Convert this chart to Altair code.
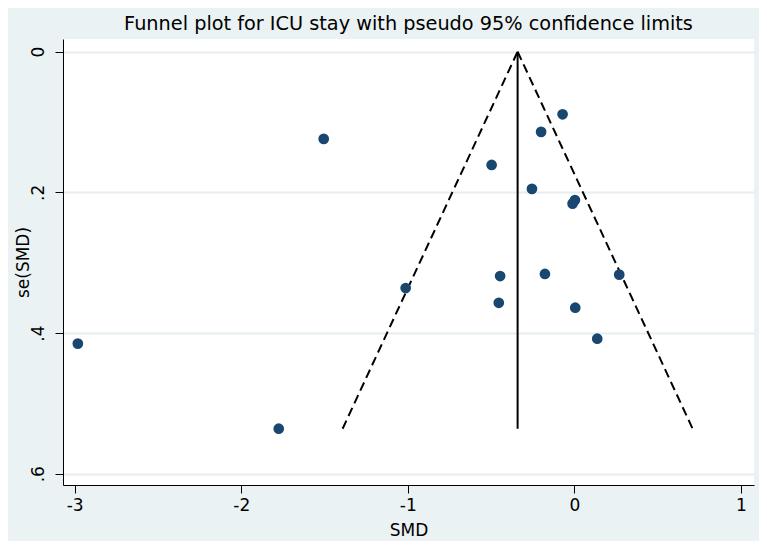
import altair as alt
import pandas as pd

# Study estimates (standardized mean difference) and their standard errors
smd = [-0.071, -0.200, -1.505, -0.497, -0.255, 0.003, -0.011, -0.446,
       -0.177, 0.269, -1.013, -0.454, 0.005, 0.137, -2.981, -1.775]
se = [0.089, 0.114, 0.124, 0.161, 0.195, 0.211, 0.216, 0.319,
      0.316, 0.317, 0.336, 0.357, 0.364, 0.408, 0.415, 0.536]

# Pooled estimate and funnel limits
center = -0.341
se_max = 0.536
z = 1.96

x_ticks = [-3, -2, -1, 0, 1]
y_ticks = [0, 0.2, 0.4, 0.6]
y_tick_labels = ["0", ".2", ".4", ".6"]

pts = pd.DataFrame({"smd": smd, "se": se})
funnel = pd.DataFrame({
    "side": ["lo", "lo", "hi", "hi"],
    "smd": [center, center - z * se_max, center, center + z * se_max],
    "se": [0, se_max, 0, se_max],
})
vline = pd.DataFrame({"smd": [center], "se": [0], "se2": [se_max]})

FONT = "DejaVu Sans"
label_expr = " : ".join(
    f"datum.value == {v} ? '{l}'" for v, l in zip(y_ticks, y_tick_labels)
) + " : ''"

xscale = alt.Scale(domain=[-3.07, 1.078], nice=False, zero=False)
yscale = alt.Scale(domain=[-0.018, 0.616], nice=False, zero=False, reverse=True)

xaxis = alt.Axis(values=x_ticks, grid=False, title="SMD", labelFontSize=17,
                 titleFontSize=17, labelFont=FONT, titleFont=FONT,
                 titleFontWeight="normal", tickSize=8, labelPadding=4,
                 titlePadding=9, domainColor="#000000", tickColor="#000000",
                 labelColor="#000000", titleColor="#000000",
                 labelExpr="'' + datum.value")
yaxis = alt.Axis(values=y_ticks, grid=True, gridColor="#E6EEF1", gridWidth=2,
                 title="se(SMD)", labelFontSize=17, titleFontSize=17,
                 labelFont=FONT, titleFont=FONT, titleFontWeight="normal",
                 tickSize=8, labelAngle=270, labelAlign="center",
                 labelBaseline="bottom", labelPadding=8,
                 titleX=-40, titleY=223, titleAlign="center",
                 titleBaseline="middle", titleAngle=270,
                 labelExpr=label_expr, domainColor="#000000",
                 tickColor="#000000", labelColor="#000000", titleColor="#000000")

base_x = alt.X("smd:Q", scale=xscale, axis=xaxis)
base_y = alt.Y("se:Q", scale=yscale, axis=yaxis)

dashed = alt.Chart(funnel).mark_line(
    color="#000000", strokeDash=[9, 5], strokeWidth=2
).encode(x=base_x, y=base_y, detail="side:N")

rule = alt.Chart(vline).mark_rule(color="#000000", strokeWidth=2).encode(
    x=alt.X("smd:Q", scale=xscale),
    y=alt.Y("se:Q", scale=yscale),
    y2="se2:Q",
)

points = alt.Chart(pts).mark_circle(size=115, color="#1A476F", opacity=1).encode(
    x=base_x, y=base_y
)

chart = alt.layer(dashed, rule, points).properties(
    width=691,
    height=446,
    title=alt.TitleParams(
        "Funnel plot for ICU stay with pseudo 95% confidence limits",
        font=FONT, fontSize=19.3, fontWeight="normal", color="#000000",
        anchor="middle", baseline="alphabetic", offset=0, dy=10,
    ),
    background="#EAF2F3",
    padding={"left": 55, "top": 31, "right": 5, "bottom": 56},
    autosize=alt.AutoSizeParams(type="none"),
).configure_view(fill="white", stroke=None)

chart.save("out.html", embed_options={"renderer": "svg", "actions": False})
